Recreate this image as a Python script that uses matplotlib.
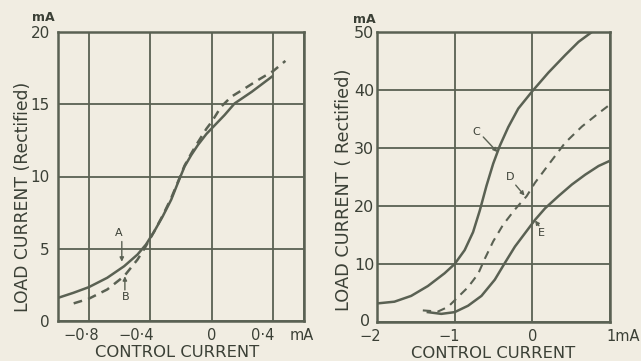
import numpy as np
import matplotlib
matplotlib.use("Agg")
import matplotlib.pyplot as plt
from matplotlib.transforms import ScaledTranslation

# colours of the old print
bg = '#f1ede2'
ink = '#5a6153'
txt = '#3b4036'

# Left panel: curve A (solid) and B (dashed)
a_x = [-1.0, -0.9, -0.8, -0.68, -0.57, -0.483, -0.428, -0.374, -0.319, -0.264, -0.221, -0.177,
       -0.133, -0.09, -0.035, 0.0, 0.083, 0.149, 0.26, 0.39]
a_y = [1.6, 1.95, 2.34, 2.99, 3.79, 4.6, 5.29, 6.2, 7.24, 8.39, 9.54, 10.69,
       11.49, 12.18, 12.94, 13.33, 14.25, 15.06, 15.86, 16.9]
b_x = [-0.898, -0.8, -0.68, -0.57, -0.483, -0.435, -0.374, -0.319, -0.264, -0.221, -0.177,
       -0.133, -0.1, -0.035, 0.0, 0.061, 0.127, 0.214, 0.3, 0.4, 0.479]
b_y = [1.22, 1.54, 2.18, 3.1, 4.25, 5.06, 6.2, 7.3, 8.5, 9.6, 10.75,
       11.6, 12.2, 13.3, 13.79, 14.83, 15.52, 16.09, 16.67, 17.3, 18.0]

# Right panel: curves C, E (solid) and D (dashed)
c_x = [-2.0, -1.776, -1.56, -1.345, -1.13, -1.0, -0.871, -0.763, -0.677, -0.59, -0.504, -0.418,
       -0.31, -0.181, 0.0, 0.207, 0.422, 0.595, 0.767]
c_y = [3.2, 3.5, 4.5, 6.2, 8.4, 10.0, 12.4, 15.5, 19.2, 23.5, 27.3, 30.4,
       33.6, 36.8, 39.8, 43.0, 46.0, 48.3, 50.0]
d_x = [-1.41, -1.216, -1.086, -0.957, -0.828, -0.698, -0.612, -0.504, -0.375, -0.224, -0.073,
       0.034, 0.207, 0.422, 0.638, 0.853, 1.0]
d_y = [2.0, 1.8, 2.6, 4.3, 6.0, 8.3, 10.9, 13.9, 16.8, 19.4, 21.7,
       24.0, 27.1, 30.9, 33.7, 36.0, 37.5]
e_x = [-1.345, -1.172, -1.0, -0.828, -0.655, -0.483, -0.353, -0.224, -0.095, 0.034, 0.164,
       0.336, 0.509, 0.681, 0.853, 1.0]
e_y = [1.7, 1.4, 1.7, 2.8, 4.5, 7.3, 10.2, 13.0, 15.3, 17.6, 19.6,
       21.7, 23.7, 25.4, 26.9, 27.8]

left_xticks = [-0.8, -0.4, 0.0, 0.4, 0.6]
left_xlabels = ['\u22120\u00b78', '\u22120\u00b74', '0', '0\u00b74', 'mA']
left_yticks = [0, 5, 10, 15, 20]
right_xticks = [-2, -1, 0, 1]
right_xlabels = ['\u22122', '\u22121', '0', '1mA']
right_yticks = [0, 10, 20, 30, 40, 50]

plt.rcParams['font.family'] = 'DejaVu Sans'

fig = plt.figure(figsize=(6.41, 3.61), dpi=100)
fig.patch.set_facecolor(bg)

ax1 = fig.add_axes([58/641, 40/361, 246/641, 289/361])
ax2 = fig.add_axes([377/641, 39/361, 233/641, 290/361])


def style(ax):
    ax.set_facecolor(bg)
    for s in ax.spines.values():
        s.set_color(ink)
        s.set_linewidth(1.8)
    ax.grid(True, color=ink, linewidth=1.3)
    ax.tick_params(length=0, colors=txt)


def nudge(lab, dx, dy=0):
    # hand lettering sits a little off the grid lines
    lab.set_transform(lab.get_transform() + ScaledTranslation(dx / 100, dy / 100, fig.dpi_scale_trans))


def arrow(ax, start, end):
    ax.annotate('', xy=end, xytext=start,
                arrowprops=dict(arrowstyle='-|>', color=ink, lw=1, mutation_scale=6,
                                shrinkA=0, shrinkB=0))


# left chart
ax1.plot(a_x, a_y, color=ink, lw=1.8, solid_joinstyle='round')
ax1.plot(b_x, b_y, color=ink, lw=1.8, ls=(0, (3.5, 2.5)))
ax1.set_xlim(-1.0, 0.6)
ax1.set_ylim(0, 20)
ax1.set_xticks(left_xticks)
ax1.set_xticklabels(left_xlabels, fontsize=10.5)
ax1.set_yticks(left_yticks)
ax1.set_yticklabels([str(v) for v in left_yticks], fontsize=11)
style(ax1)
ax1.tick_params(axis='x', pad=5)
ax1.tick_params(axis='y', pad=6)
for lab, dx in zip(ax1.get_xticklabels(), [-8, -14, 0, -11, -2]):
    nudge(lab, dx)
ax1.set_ylabel('LOAD CURRENT (Rectified)', color=txt, fontsize=12.4, va='center')
ax1.yaxis.set_label_coords(-0.142, 0.43)
ax1.set_xlabel('CONTROL CURRENT', color=txt, fontsize=11.8, va='center')
ax1.xaxis.set_label_coords(0.484, -0.108)
ax1.text(-1.094, 21.0, 'mA', color=txt, fontsize=9, ha='center', va='center', fontweight='bold')

ax1.text(-0.607, 6.07, 'A', color=txt, fontsize=8, ha='center', va='center')
arrow(ax1, (-0.585, 5.5), (-0.585, 4.1))
ax1.text(-0.563, 1.68, 'B', color=txt, fontsize=8, ha='center', va='center')
arrow(ax1, (-0.565, 2.15), (-0.565, 3.1))

# right chart
ax2.plot(c_x, c_y, color=ink, lw=1.8, solid_joinstyle='round')
ax2.plot(d_x, d_y, color=ink, lw=1.5, ls=(0, (4, 3)))
ax2.plot(e_x, e_y, color=ink, lw=1.8, solid_joinstyle='round')
ax2.set_xlim(-2, 1)
ax2.set_ylim(0, 50)
ax2.set_xticks(right_xticks)
ax2.set_xticklabels(right_xlabels, fontsize=10.5)
ax2.set_yticks(right_yticks)
ax2.set_yticklabels([str(v) for v in right_yticks], fontsize=11.5)
style(ax2)
ax2.tick_params(axis='x', pad=5)
ax2.tick_params(axis='y', pad=2)
for lab, dx in zip(ax2.get_xticklabels(), [-7, -6, 0, 13]):
    nudge(lab, dx)
nudge(ax2.get_yticklabels()[0], -4, 2)
ax2.set_ylabel('LOAD CURRENT ( Rectified)', color=txt, fontsize=12.8, va='center')
ax2.yaxis.set_label_coords(-0.142, 0.455)
ax2.set_xlabel('CONTROL CURRENT', color=txt, fontsize=11.8, va='center')
ax2.xaxis.set_label_coords(0.50, -0.11)
ax2.text(-2.167, 52.2, 'mA', color=txt, fontsize=9, ha='center', va='center', fontweight='bold')

ax2.text(-0.718, 32.8, 'C', color=txt, fontsize=8, ha='center', va='center')
arrow(ax2, (-0.632, 31.9), (-0.45, 29.3))
ax2.text(-0.29, 25.05, 'D', color=txt, fontsize=8, ha='center', va='center')
arrow(ax2, (-0.214, 23.6), (-0.1, 21.8))
ax2.text(0.115, 15.3, 'E', color=txt, fontsize=8, ha='center', va='center')
arrow(ax2, (0.085, 16.6), (0.035, 17.5))

fig.savefig('out.png', dpi=100, facecolor=bg)
